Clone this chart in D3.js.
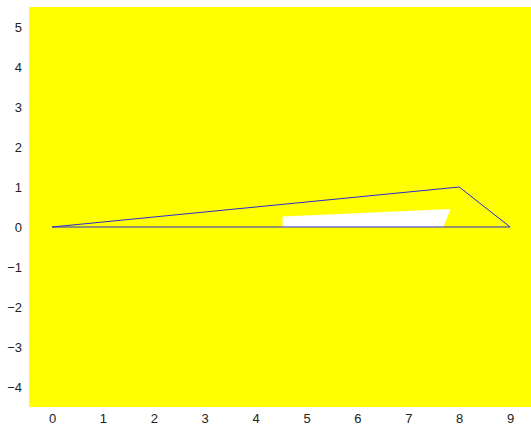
<!DOCTYPE html>
<html><head><meta charset="utf-8">
<script src="https://cdn.jsdelivr.net/npm/d3@7"></script>
<style>body{margin:0;background:#fff}svg{display:block}</style>
</head><body>
<svg id="c" width="531" height="427"></svg>
<script>
const outlineX = [0, 8, 9, 0];
const outlineY = [0, 1, 0, 0];
const fillX = [4.53, 4.53, 7.83, 7.69];
const fillY = [0.0, 0.26, 0.45, 0.0];
const xTicks = [0,1,2,3,4,5,6,7,8,9];
const yTicks = [-4,-3,-2,-1,0,1,2,3,4,5];

const svg = d3.select("#c");
const L = 29, R = 531, T = 7, B = 407;
const x = d3.scaleLinear().domain([-0.452, 9.41]).range([L, R]);
const y = d3.scaleLinear().domain([-4.5, 5.5]).range([B, T]);

svg.append("rect").attr("x", L).attr("y", T).attr("width", R - L).attr("height", B - T).attr("fill", "#ffff00");

const line = d3.line().x(d => x(d[0])).y(d => y(d[1]));
svg.append("path")
  .attr("d", line(fillX.map((v, i) => [v, fillY[i]])) + "Z")
  .attr("fill", "#ffffff").attr("stroke", "none");
svg.append("path")
  .attr("d", line(outlineX.map((v, i) => [v, outlineY[i]])))
  .attr("fill", "none").attr("stroke", "#2a2ad0").attr("stroke-width", 1);

const xa = svg.append("g").attr("transform", `translate(0,${B})`)
  .call(d3.axisBottom(x).tickValues(xTicks).tickSize(0).tickPadding(7));
const ya = svg.append("g").attr("transform", `translate(${L},0)`)
  .call(d3.axisLeft(y).tickValues(yTicks).tickSize(0).tickPadding(7));
[xa, ya].forEach(a => {
  a.select(".domain").remove();
  a.selectAll("text").attr("font-family", "Liberation Sans, Arial, sans-serif").attr("font-size", 13).attr("fill", "#222");
});
</script>
</body></html>
